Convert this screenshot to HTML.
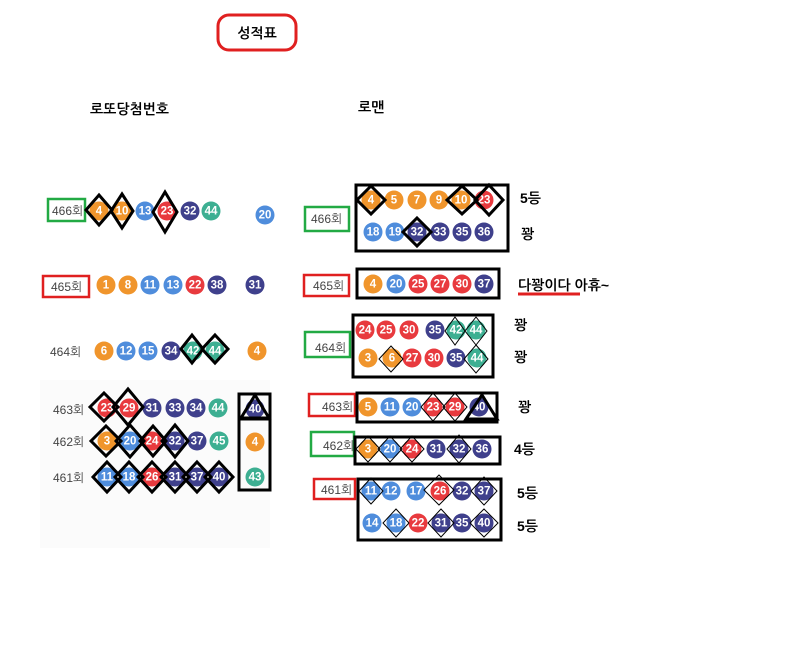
<!DOCTYPE html>
<html><head><meta charset="utf-8"><style>
body{margin:0;background:#fff;}
svg{display:block;font-family:"Liberation Sans","Noto Sans CJK KR",sans-serif;}
.b{font-weight:bold;font-size:11.5px;fill:#fff;text-anchor:middle;dominant-baseline:central;}
.k{font-weight:bold;font-size:14px;fill:#000;font-family:"Liberation Sans","NanumGothic","Noto Sans CJK KR",sans-serif;}
.l{font-size:12px;fill:#444;font-family:"Liberation Sans","NanumGothic","Noto Sans CJK KR",sans-serif;}
</style></head><body>
<svg id="s" width="797" height="665" viewBox="0 0 797 665" xmlns="http://www.w3.org/2000/svg">
<rect x="40" y="380" width="230" height="168" fill="#fbfbfb"/>
<rect x="218" y="15" width="78" height="35" rx="11" fill="none" stroke="#e02020" stroke-width="3"/>
<text class="k" x="257" y="38" text-anchor="middle" font-size="15">성적표</text>
<text class="k" x="90" y="114">로또당첨번호</text>
<text class="k" x="358" y="112">로맨</text>
<g id="g"></g>
</svg>
<script>
var g=document.getElementById('g'),h='';
function col(n){return n<=10?'#f0952c':n<=20?'#4f8ddc':n<=30?'#e83a3e':n<=40?'#3f408c':'#3daf92';}
function ball(x,y,n){h+='<circle cx="'+x+'" cy="'+y+'" r="9.5" fill="'+col(n)+'"/><text class="b" x="'+x+'" y="'+(y+0.5)+'">'+n+'</text>';}
function row(y,xs,ns){for(var i=0;i<xs.length;i++)ball(xs[i],y,ns[i]);}
function dia(x,y,w,hh,sw){h+='<polygon points="'+x+','+(y-hh)+' '+(x+w)+','+y+' '+x+','+(y+hh)+' '+(x-w)+','+y+'" fill="none" stroke="#000" stroke-width="'+sw+'"/>';}
function box(x,y,w,hh,c,sw){h+='<rect x="'+x+'" y="'+y+'" width="'+w+'" height="'+hh+'" fill="none" stroke="'+c+'" stroke-width="'+(sw||3)+'"/>';}
function lab(x,y,t){h+='<text class="l" x="'+x+'" y="'+y+'">'+t+'</text>';}
function kt(x,y,t){h+='<text class="k" x="'+x+'" y="'+y+'">'+t+'</text>';}
var G='#22aa44',R='#e02020';
// left
box(48,199,37,22,G,2.5);lab(52,215,'466회');
row(211,[99,122,145,167,190,211],[4,10,13,23,32,44]);ball(265,215,20);
dia(99,210,13,15,3);dia(122,211,11,17,3);dia(165,212,12,20,3);
box(43,276,46,21,R,2.5);lab(51,291,'465회');
row(285,[106,128,150,173,195,217],[1,8,11,13,22,38]);ball(255,285,31);
lab(50,356,'464회');row(351,[104,126,148,171,193,215],[6,12,15,34,42,44]);ball(257,351,4);
dia(192,349,11,14,3);dia(215,349,13,14,3);
lab(53,414,'463회');row(408,[107,129,152,175,196,218],[23,29,31,33,34,44]);
dia(104,407,14,14,3);dia(128,407,15,18,3);
lab(53,446,'462회');row(441,[107,130,152,175,197,219],[3,20,24,32,37,45]);
dia(106,441,15,15,3);dia(130,441,14,16,3);dia(153,441,13,15,3);dia(175,441,13,16,3);
lab(53,482,'461회');row(477,[107,129,152,175,197,219],[11,18,26,31,37,40]);
[107,129,152,175,197,219].forEach(function(x){dia(x,477,14,15,3);});
box(239,394,31,96,'#000',3);h+='<line x1="239" y1="419" x2="270" y2="419" stroke="#000" stroke-width="3"/>';
ball(255,409,40);ball(255,442,4);ball(255,477,43);
h+='<polygon points="255,395 241,418 269,418" fill="none" stroke="#000" stroke-width="3"/>';
// right
box(305,207,44,24,G,2.5);lab(311,223,'466회');
box(356,185,152,66,'#000',3);
row(200,[371,394,417,439,461,484],[4,5,7,9,10,23]);row(232,[373,395,417,440,462,484],[18,19,32,33,35,36]);
dia(371,200,14,14,3);dia(462,200,15,14,3);dia(489,200,14,15,3);dia(417,232,14,14,3);
kt(520,203,'5등');kt(521,239,'꽝');
box(304,275,45,21,R,2.5);lab(313,290,'465회');box(357,269,142,29,'#000',3);
row(284,[373,396,418,440,462,484],[4,20,25,27,30,37]);
kt(518,290,'다꽝이다 아휴~');h+='<line x1="518" y1="294" x2="580" y2="294" stroke="#e02020" stroke-width="3"/>';
box(305,332,45,25,G,2.5);lab(315,352,'464회');box(353,315,140,62,'#000',3);
row(330,[365,386,409,435,456,476],[24,25,30,35,42,44]);row(358,[368,392,412,434,456,477],[3,6,27,30,35,44]);
dia(455,331,10,14,1);dia(476,331,11,14,1);dia(391,359,12,13,1);dia(476,359,12,14,1);
kt(514,330,'꽝');kt(514,362,'꽝');
box(309,394,46,22,R,2.5);lab(322,411,'463회');box(357,393,140,29,'#000',3);
row(407,[368,390,412,433,455,479],[5,11,20,23,29,40]);dia(433,407,12,14,1);dia(455,407,12,14,1);
h+='<polygon points="482,395 466,419 497,419" fill="none" stroke="#000" stroke-width="3"/>';
kt(518,412,'꽝');
box(311,432,43,24,G,2.5);lab(323,450,'462회');box(355,437,145,27,'#000',3);
row(449,[368,390,412,436,459,482],[3,20,24,31,32,36]);
dia(368,449,12,13,1);dia(390,449,12,13,1);dia(412,449,12,13,1);dia(459,449,12,14,1);
kt(514,454,'4등');
box(314,479,41,20,R,2.5);lab(321,494,'461회');box(358,479,143,61,'#000',3);
row(491,[371,391,416,440,462,484],[11,12,17,26,32,37]);row(523,[372,396,418,441,462,484],[14,18,22,31,35,40]);
dia(371,491,12,13,1);dia(439,490,15,15,1);dia(484,491,13,14,1);dia(396,523,13,14,1);dia(441,523,13,14,1);dia(484,523,14,14,1);
kt(517,498,'5등');kt(517,531,'5등');
g.innerHTML=h;
</script>
</body></html>
